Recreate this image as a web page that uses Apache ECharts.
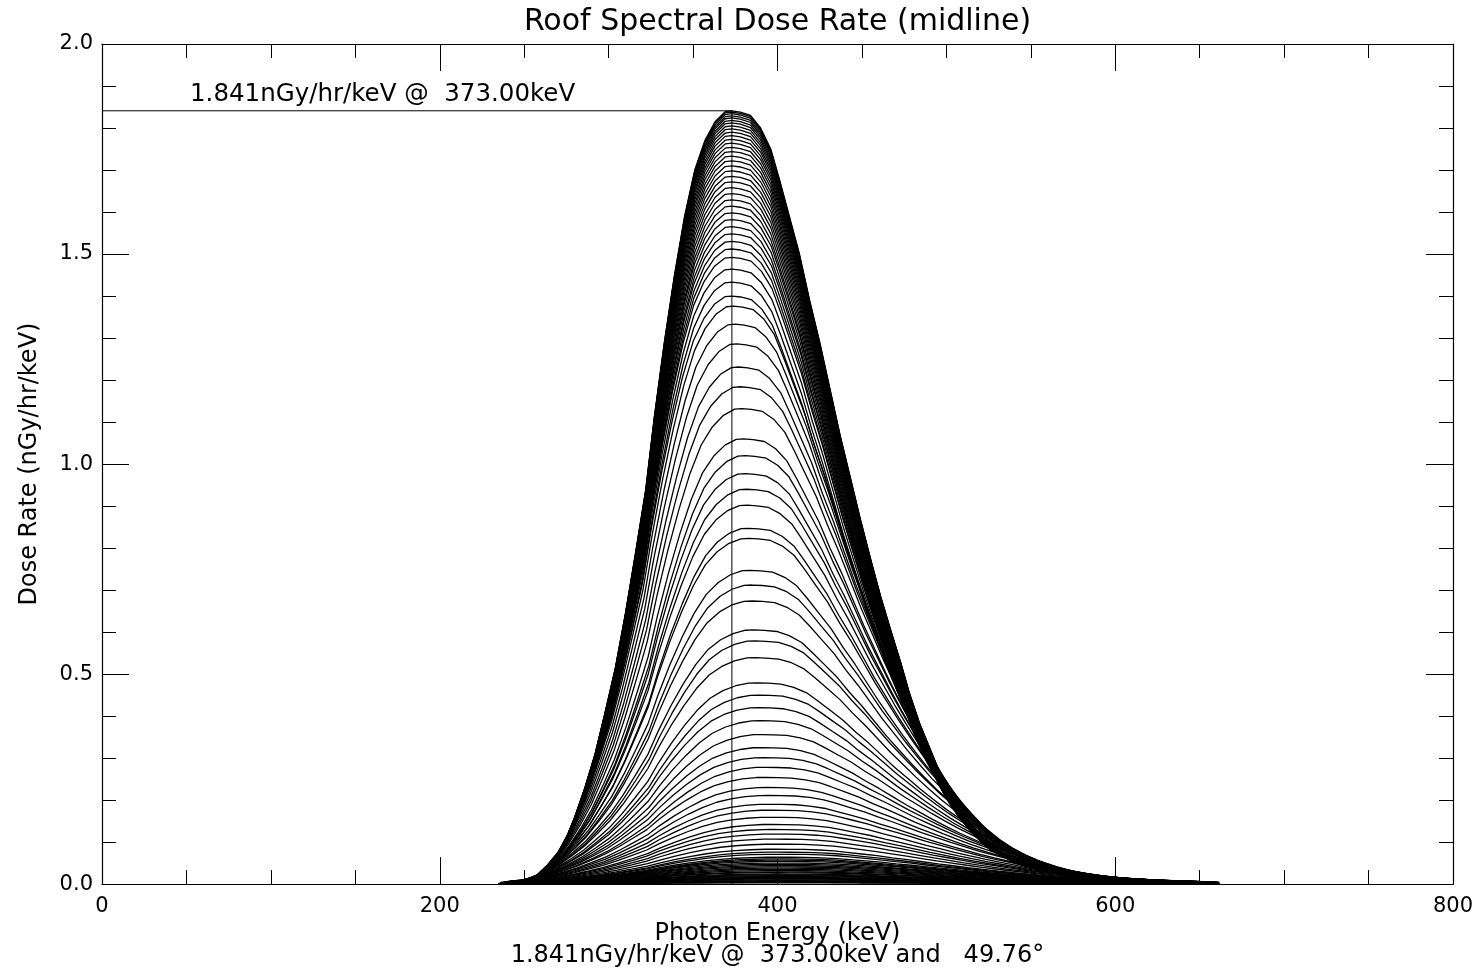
<!DOCTYPE html>
<html><head><meta charset="utf-8">
<script src="https://cdn.jsdelivr.net/npm/echarts@6/dist/echarts.min.js"></script>
<style>html,body{margin:0;padding:0;background:#fff}#c{width:1481px;height:973px}</style>
</head><body><div id="c"></div>
<script>
const titleText = 'Roof Spectral Dose Rate (midline)';
const xName = 'Photon Energy (keV)';
const subtitle = '1.841nGy/hr/keV @  373.00keV and   49.76°';
const yName = 'Dose Rate (nGy/hr/keV)';
const peakLabel = '1.841nGy/hr/keV @  373.00keV';
const peakEnergy = 373;
const peakRate = 1.841;

// outer (highest) spectrum
const envelopeEnergy = [235,245,253,258,262,268,274,280,286,292,298,304,310,316,322,327,333,339,345,351,357,363,369,373,378,384,390,396,401,407,413,419,425,431,437,443,449,455,461,467,473,478,484,490,496,502,508,517,526,538,549,567,585,597,620,650,659,662];
const envelopeRate = [0,0.008,0.010,0.018,0.028,0.06,0.10,0.16,0.23,0.31,0.41,0.515,0.645,0.79,0.94,1.11,1.29,1.45,1.59,1.70,1.77,1.815,1.839,1.841,1.838,1.83,1.80,1.75,1.68,1.59,1.50,1.39,1.29,1.18,1.07,0.97,0.87,0.776,0.686,0.605,0.527,0.456,0.384,0.325,0.266,0.218,0.178,0.13,0.093,0.064,0.045,0.028,0.019,0.014,0.009,0.005,0.002,0];

// crest value of every drawn spectrum (one per angle)
const curvePeakRate = [1.841,1.838,1.834,1.829,1.824,1.818,1.812,1.805,1.798,1.790,1.782,1.773,1.764,1.754,1.744,1.733,1.722,1.710,1.698,1.685,1.672,1.658,1.644,1.629,1.614,1.598,1.582,1.565,1.548,1.530,1.512,1.492,1.464,1.433,1.400,
  1.376,1.333,1.286,1.231,1.184,1.132,1.060,1.020,0.977,0.940,0.902,0.847,0.823,0.747,0.712,0.674,0.605,0.579,0.539,0.479,
  0.450,0.420,0.389,0.356,0.325,0.301,0.278,0.254,0.230,0.211,0.190,0.176,0.159,0.142,0.130,0.119,0.107,0.095,0.083,0.076,0.071,
  0.064,0.060,0.057,0.054,0.050,0.047,0.044,0.041,0.038,0.035,0.032,0.029,0.027,0.024,0.022,0.020,0.018,0.016,0.014,0.012,0.010,0.008,0.007,0.005,0.004,0.003,0.002];
// energy of each spectrum's crest (keV)
const curvePeakEnergy = [373,373,373,373,373,373,373,373,373,373,373,373,373,373,373,373,373,373,373,373,373,373,373,373,373,373,373,373,373,373,373,373,373,373,373,
  374,375,376,377,378,379,380,381,381,382,382,383,383,384,385,385,386,387,387,388,
  389,389,390,391,391,392,393,393,394,395,395,396,396,397,397,398,398,399,399,400,400,
  400,400,400,400,400,400,400,400,400,400,400,400,400,400,400,400,400,400,400,400,400,400,400,400,400,400];
// relative breadth of each spectrum compared with the outer one
const curveBreadth = [1,1,1,1,1,1,1,1,1,1,1,1,1,1,1,1,1,1,1,1,1,1,1,1,1,1.01,1.01,1.01,1.02,1.02,1.02,1.03,1.03,1.03,1.04,
  1.05,1.06,1.07,1.08,1.09,1.10,1.11,1.12,1.13,1.14,1.15,1.16,1.17,1.19,1.20,1.21,1.23,1.24,1.25,1.27,
  1.28,1.29,1.30,1.32,1.33,1.35,1.36,1.38,1.39,1.41,1.42,1.43,1.44,1.45,1.46,1.47,1.48,1.49,1.50,1.51,1.52,
  1.53,1.53,1.54,1.54,1.55,1.55,1.55,1.55,1.55,1.55,1.55,1.55,1.55,1.55,1.55,1.55,1.55,1.55,1.55,1.55,1.55,1.55,1.55,1.55,1.55,1.55];

const xTicks = {min:0, max:800, step:200};
const yTicks = {min:0, max:2.0, step:0.5};

const FONT = 'DejaVu Sans';
const black = '#000';
const plotLeft = 102, plotRight = 1453;

const chart = echarts.init(document.getElementById('c'), null, {renderer:'canvas'});

// every spectrum is only defined over the measured energy range
const eMin = envelopeEnergy[0], eMax = envelopeEnergy[envelopeEnergy.length - 1];
const series = curvePeakRate.map((h, k) => ({
  type: 'line',
  data: envelopeEnergy
    .map((e, i) => [curvePeakEnergy[k] + (e - peakEnergy) * curveBreadth[k], envelopeRate[i] * h / peakRate])
    .filter(p => p[0] >= eMin && p[0] <= eMax),
  symbol: 'none', silent: true, animation: false, clip: true,
  lineStyle: {color: black, width: 1.3}
}));
series.push({
  type: 'line', symbol: 'none', silent: true, animation: false,
  data: [[0, peakRate], [peakEnergy, peakRate], [peakEnergy, 0]],
  lineStyle: {color: black, width: 1}
});

function xAxisDef(pos, labels) {
  return {
    type: 'value', position: pos, min: xTicks.min, max: xTicks.max, interval: xTicks.step,
    axisLine: {show: true, onZero: false, lineStyle: {color: black, width: 1.2}},
    axisTick: {show: true, inside: true, length: 27, lineStyle: {color: black, width: 1}},
    minorTick: {show: true, splitNumber: 4, length: 14, lineStyle: {color: black, width: 1}},
    splitLine: {show: false},
    axisLabel: {show: labels, color: black, fontSize: 21, fontFamily: FONT, margin: 12},
    name: labels ? xName + '\n' + subtitle : '',
    nameLocation: 'middle', nameGap: 35,
    nameTextStyle: {color: black, fontSize: 24, fontFamily: FONT, lineHeight: 22}
  };
}
function yAxisDef(pos, labels) {
  return {
    type: 'value', position: pos, min: yTicks.min, max: yTicks.max, interval: yTicks.step,
    axisLine: {show: true, onZero: false, lineStyle: {color: black, width: 1.2}},
    axisTick: {show: true, inside: true, length: 27, lineStyle: {color: black, width: 1}},
    minorTick: {show: true, splitNumber: 5, length: 14, lineStyle: {color: black, width: 1}},
    splitLine: {show: false},
    axisLabel: {show: labels, color: black, fontSize: 21, fontFamily: FONT, margin: 9,
      formatter: v => v.toFixed(1)},
    name: labels ? yName : '',
    nameLocation: 'middle', nameGap: 60, nameRotate: 90,
    nameTextStyle: {color: black, fontSize: 24, fontFamily: FONT}
  };
}

chart.setOption({
  animation: false,
  backgroundColor: '#fff',
  grid: {left: plotLeft, right: 1481 - plotRight, top: 44, bottom: 86, containLabel: false},
  xAxis: [xAxisDef('bottom', true), xAxisDef('top', false)],
  yAxis: [yAxisDef('left', true), yAxisDef('right', false)],
  graphic: [
    {type: 'text', x: (plotLeft + plotRight) / 2, y: 22,
      style: {text: titleText, fill: black, fontSize: 30, fontFamily: FONT, align: 'center', verticalAlign: 'middle'}},
    {type: 'text', left: 190, top: 82,
      style: {text: peakLabel, fill: black, fontSize: 24.5, fontFamily: FONT}}
  ],
  series: series
});
</script></body></html>
